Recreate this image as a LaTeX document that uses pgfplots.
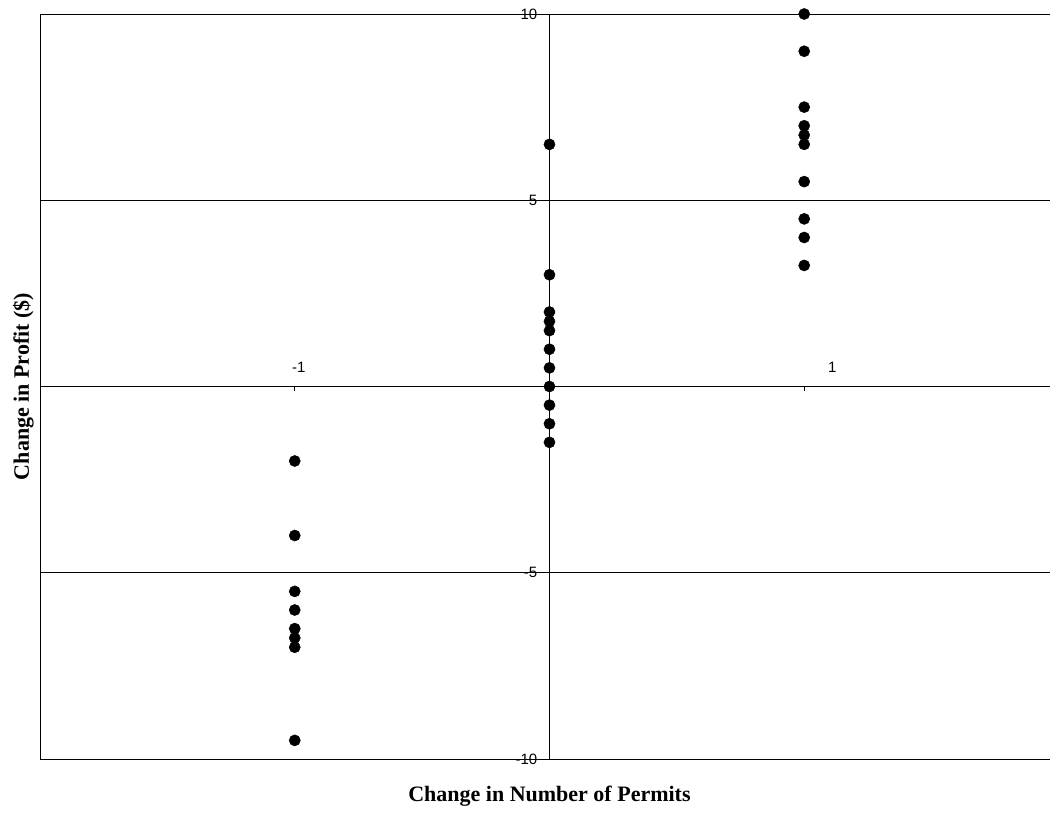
\documentclass[border=0pt]{standalone}
\usepackage{pgfplots}
\pgfplotsset{compat=1.18}
\usepackage{fontspec}
\setmainfont{Liberation Serif}
\newfontfamily\arial{Liberation Sans}

\begin{document}
\begin{tikzpicture}
\useasboundingbox (-40bp,-56bp) rectangle (1010bp,759bp);
\begin{axis}[
  at={(0bp,0bp)}, anchor=south west,
  scale only axis, width=1019bp, height=745bp,
  xmin=-2, xmax=2, ymin=-10, ymax=10,
  axis lines=middle,
  axis line style={-, line width=0.8bp, black},
  xtick={-1,1},
  xticklabels={\hspace*{8bp}-1,\hspace*{56bp}1},
  ytick={-10,-5,0,5,10},
  ymajorgrids,
  major grid style={black, line width=0.8bp},
  extra x ticks={-2},
  extra x tick labels={},
  extra x tick style={xmajorgrids=true, major tick length=0pt},
  tick align=outside,
  major tick length=5bp,
  tick style={black, line width=0.8bp},
  ytick style={draw=none},
  /pgf/number format/assume math mode=true,
  ticklabel style={font=\arial\fontsize{15bp}{18bp}\selectfont},
  xticklabel style={anchor=base, inner sep=0pt, yshift=19bp},
  yticklabel style={anchor=east, inner sep=0pt, xshift=-7bp},
  xlabel={Change in Number of Permits},
  ylabel={Change in Profit (\$)},
  every axis x label/.style={at={(rel axis cs:0.5,0)}, anchor=base, yshift=-42bp,
    font=\bfseries\fontsize{22bp}{26bp}\selectfont},
  every axis y label/.style={at={([xshift=-6bp]rel axis cs:0,0.5)}, rotate=90,
    anchor=south, inner sep=0pt, font=\bfseries\fontsize{22bp}{26bp}\selectfont},
]
\addplot[only marks, mark=*, mark size=5.6bp, black] coordinates {
  (-1,-2) (-1,-4) (-1,-5.5) (-1,-6) (-1,-6.5) (-1,-6.75) (-1,-7) (-1,-9.5)
  (0,6.5) (0,3) (0,2) (0,1.75) (0,1.5) (0,1) (0,0.5) (0,0) (0,-0.5) (0,-1) (0,-1.5)
  (1,10) (1,9) (1,7.5) (1,7) (1,6.75) (1,6.5) (1,5.5) (1,4.5) (1,4) (1,3.25)
};
\end{axis}
\end{tikzpicture}
\end{document}
